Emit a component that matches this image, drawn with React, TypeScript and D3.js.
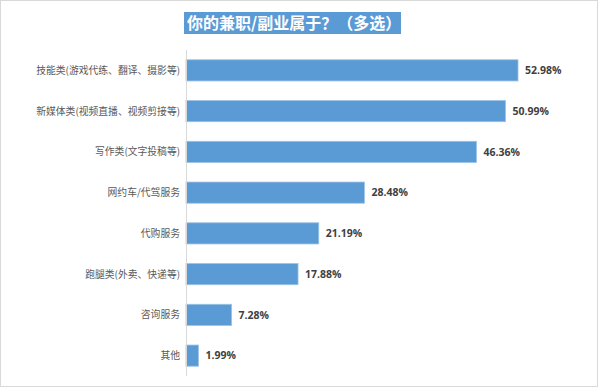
import React, { useEffect, useRef } from 'react';
import * as d3 from 'd3';

const categories = [
  '技能类(游戏代练、翻译、摄影等)',
  '新媒体类(视频直播、视频剪接等)',
  '写作类(文字投稿等)',
  '网约车/代驾服务',
  '代购服务',
  '跑腿类(外卖、快递等)',
  '咨询服务',
  '其他',
];
const values = [52.98, 50.99, 46.36, 28.48, 21.19, 17.88, 7.28, 1.99];
const title = '你的兼职/副业属于？（多选）';

const W = 600;
const H = 389;

const App = () => {
  const svgRef = useRef<SVGSVGElement>(null);

  useEffect(() => {
    const svg = d3.select(svgRef.current);
    svg.selectAll('*').remove();

    // outer frame
    svg.append('rect')
      .attr('x', 0.5).attr('y', 0.5)
      .attr('width', 597).attr('height', 386)
      .attr('fill', '#fff')
      .attr('stroke', '#d9d9d9');

    // title box
    svg.append('rect')
      .attr('x', 184).attr('y', 12)
      .attr('width', 217).attr('height', 22)
      .attr('fill', '#5b9bd5');
    svg.append('text')
      .attr('x', 187).attr('y', 29)
      .attr('fill', '#fff')
      .attr('font-family', '"Noto Sans CJK SC", sans-serif')
      .attr('font-weight', 'bold')
      .attr('font-size', 16)
      .text(title);

    const x = d3.scaleLinear().domain([0, 60]).range([186, 562]);
    const y = d3.scaleBand<string>().domain(categories).range([50, 376]).paddingInner(0.48).paddingOuter(0.24);

    const rows = categories.map((c, i) => ({ name: c, value: values[i] }));

    svg.append('g').selectAll('rect')
      .data(rows)
      .join('rect')
      .attr('x', x(0))
      .attr('y', d => y(d.name)!)
      .attr('width', d => x(d.value) - x(0))
      .attr('height', y.bandwidth())
      .attr('fill', '#5b9bd5')
      .attr('stroke', '#9dc3e6')
      .attr('stroke-width', 0.8);

    // axis line
    svg.append('line')
      .attr('x1', 186.5).attr('x2', 186.5)
      .attr('y1', 50).attr('y2', 376)
      .attr('stroke', '#d9d9d9');

    svg.append('g').selectAll('text')
      .data(rows)
      .join('text')
      .attr('x', 180)
      .attr('y', d => y(d.name)! + y.bandwidth() / 2)
      .attr('dy', '0.35em')
      .attr('text-anchor', 'end')
      .attr('fill', '#595959')
      .attr('font-family', '"Noto Sans CJK SC", sans-serif')
      .attr('font-size', 9.8)
      .text(d => d.name);

    svg.append('g').selectAll('text')
      .data(rows)
      .join('text')
      .attr('x', d => x(d.value) + 7)
      .attr('y', d => y(d.name)! + y.bandwidth() / 2)
      .attr('dy', '0.35em')
      .attr('fill', '#404040')
      .attr('font-family', '"Open Sans", sans-serif')
      .attr('font-weight', 'bold')
      .attr('font-size', 10.5)
      .text(d => d.value.toFixed(2) + '%');
  }, []);

  return (
    <svg ref={svgRef} width={W} height={H} style={{ position: 'absolute', left: 0, top: 0 }} />
  );
};

export default App;
